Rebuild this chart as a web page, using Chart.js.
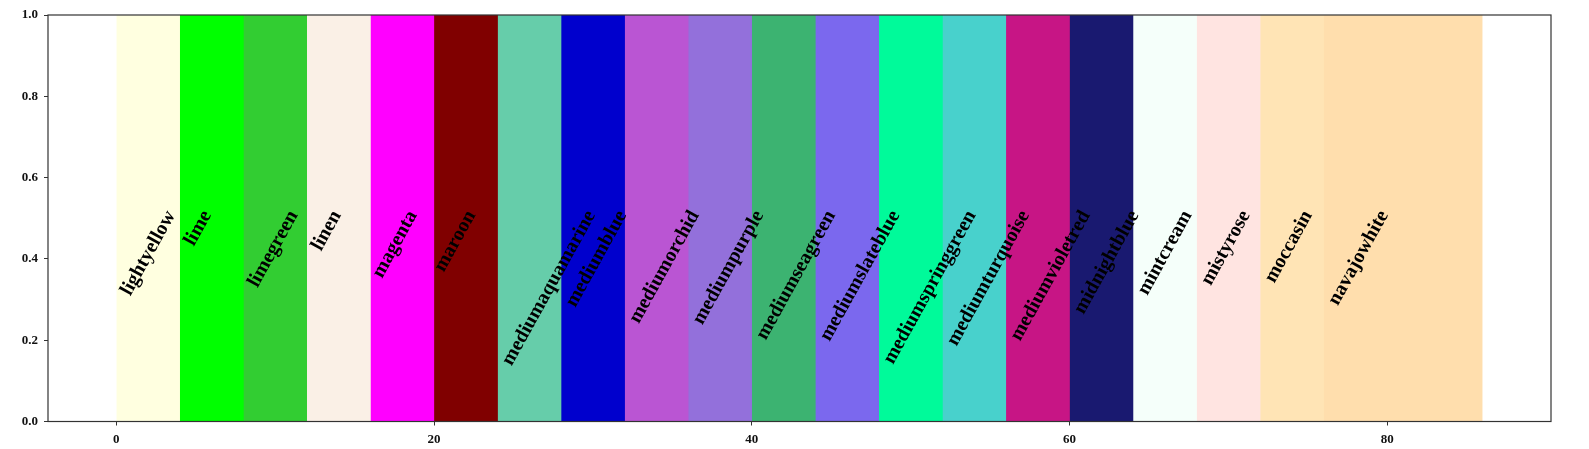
<!DOCTYPE html>
<html>
<head>
<meta charset="utf-8">
<script src="https://cdn.jsdelivr.net/npm/chart.js@4/dist/chart.umd.min.js"></script>
<style>
  html, body { margin: 0; padding: 0; background: #ffffff; }
  #wrap { width: 1589px; height: 449px; }
</style>
</head>
<body>
<div id="wrap"><canvas id="c" width="1589" height="449"></canvas></div>
<script>
// ---- data ----
const colorNames = ["lightyellow","lime","limegreen","linen","magenta","maroon",
  "mediumaquamarine","mediumblue","mediumorchid","mediumpurple","mediumseagreen",
  "mediumslateblue","mediumspringgreen","mediumturquoise","mediumvioletred",
  "midnightblue","mintcream","mistyrose","moccasin","navajowhite"];
const spanStarts = [0,4,8,12,16,20,24,28,32,36,40,44,48,52,56,60,64,68,72,76];
const spanEnds   = [10,14,18,22,26,30,34,38,42,46,50,54,58,62,66,70,74,78,82,86];
const spanTop = [1,1,1,1,1,1,1,1,1,1,1,1,1,1,1,1,1,1,1,1];
const xTickValues = [0,20,40,60,80];
const yTickValues = [0,0.2,0.4,0.6,0.8,1.0];

// ---- styling ----
const TICK_FONT = { family: '"Liberation Serif", "Times New Roman", serif', size: 13, weight: 'bold' };
const LABEL_FONT = 'bold 20px "Liberation Serif", "Times New Roman", serif';
const LABEL_ANGLE = 61 * Math.PI / 180;
const LABEL_TOP = 0.53;
const AXIS_COLOR = '#333333';

const datasets = colorNames.map((name, i) => ({
  label: name,
  data: [{x: spanStarts[i], y: spanTop[i]}, {x: spanEnds[i], y: spanTop[i]}],
  backgroundColor: name,
  borderColor: name,
  borderWidth: 0,
  pointRadius: 0,
  fill: 'origin',
  tension: 0,
  order: colorNames.length - i
}));

const labelPlugin = {
  id: 'spanLabels',
  afterDatasetsDraw(chart) {
    const ctx = chart.ctx;
    const xs = chart.scales.x, ys = chart.scales.y;
    ctx.save();
    ctx.font = LABEL_FONT;
    ctx.fillStyle = '#000000';
    ctx.textBaseline = 'alphabetic';
    ctx.textAlign = 'left';
    const s = Math.sin(LABEL_ANGLE), c = Math.cos(LABEL_ANGLE);
    colorNames.forEach((name, i) => {
      const m = ctx.measureText(name);
      const L = m.width;
      const asc = m.fontBoundingBoxAscent || 17.8;
      const inkAsc = (m.actualBoundingBoxAscent || 14) + 1;
      const xl = xs.getPixelForValue(spanStarts[i]);
      const yt = ys.getPixelForValue(LABEL_TOP);
      const bx = xl + inkAsc * s;
      const by = yt + L * s + asc * c;
      ctx.save();
      ctx.translate(bx, by);
      ctx.rotate(-LABEL_ANGLE);
      ctx.fillText(name, 0, 0);
      ctx.restore();
    });
    ctx.restore();
  },
  afterDraw(chart) {
    const a = chart.chartArea;
    const ctx = chart.ctx;
    ctx.save();
    ctx.strokeStyle = AXIS_COLOR;
    ctx.lineWidth = 1.2;
    ctx.strokeRect(a.left, a.top, a.right - a.left, a.bottom - a.top);
    ctx.restore();
  }
};

new Chart(document.getElementById('c'), {
  type: 'line',
  data: { datasets },
  options: {
    responsive: false,
    animation: false,
    devicePixelRatio: 1,
    layout: { padding: { left: 0, right: 38, top: 15, bottom: 0 } },
    plugins: { legend: { display: false }, tooltip: { enabled: false } },
    scales: {
      x: {
        type: 'linear',
        min: -4.3,
        max: 90.3,
        afterBuildTicks: (scale) => { scale.ticks = xTickValues.map(v => ({ value: v })); },
        afterFit: (scale) => { scale.height = 27.5; },
        ticks: { font: TICK_FONT, color: '#111111', padding: 6, maxRotation: 0,
                 callback: (v) => String(v) },
        grid: { drawOnChartArea: false, drawTicks: true, tickLength: 4, tickColor: AXIS_COLOR, tickWidth: 1 },
        border: { display: false }
      },
      y: {
        type: 'linear',
        min: 0,
        max: 1,
        afterBuildTicks: (scale) => { scale.ticks = yTickValues.map(v => ({ value: v })); },
        afterFit: (scale) => { scale.width = 48; },
        ticks: { font: TICK_FONT, color: '#111111', padding: 6,
                 callback: (v) => Number(v).toFixed(1) },
        grid: { drawOnChartArea: false, drawTicks: true, tickLength: 4, tickColor: AXIS_COLOR, tickWidth: 1 },
        border: { display: false }
      }
    }
  },
  plugins: [labelPlugin]
});
</script>
</body>
</html>
